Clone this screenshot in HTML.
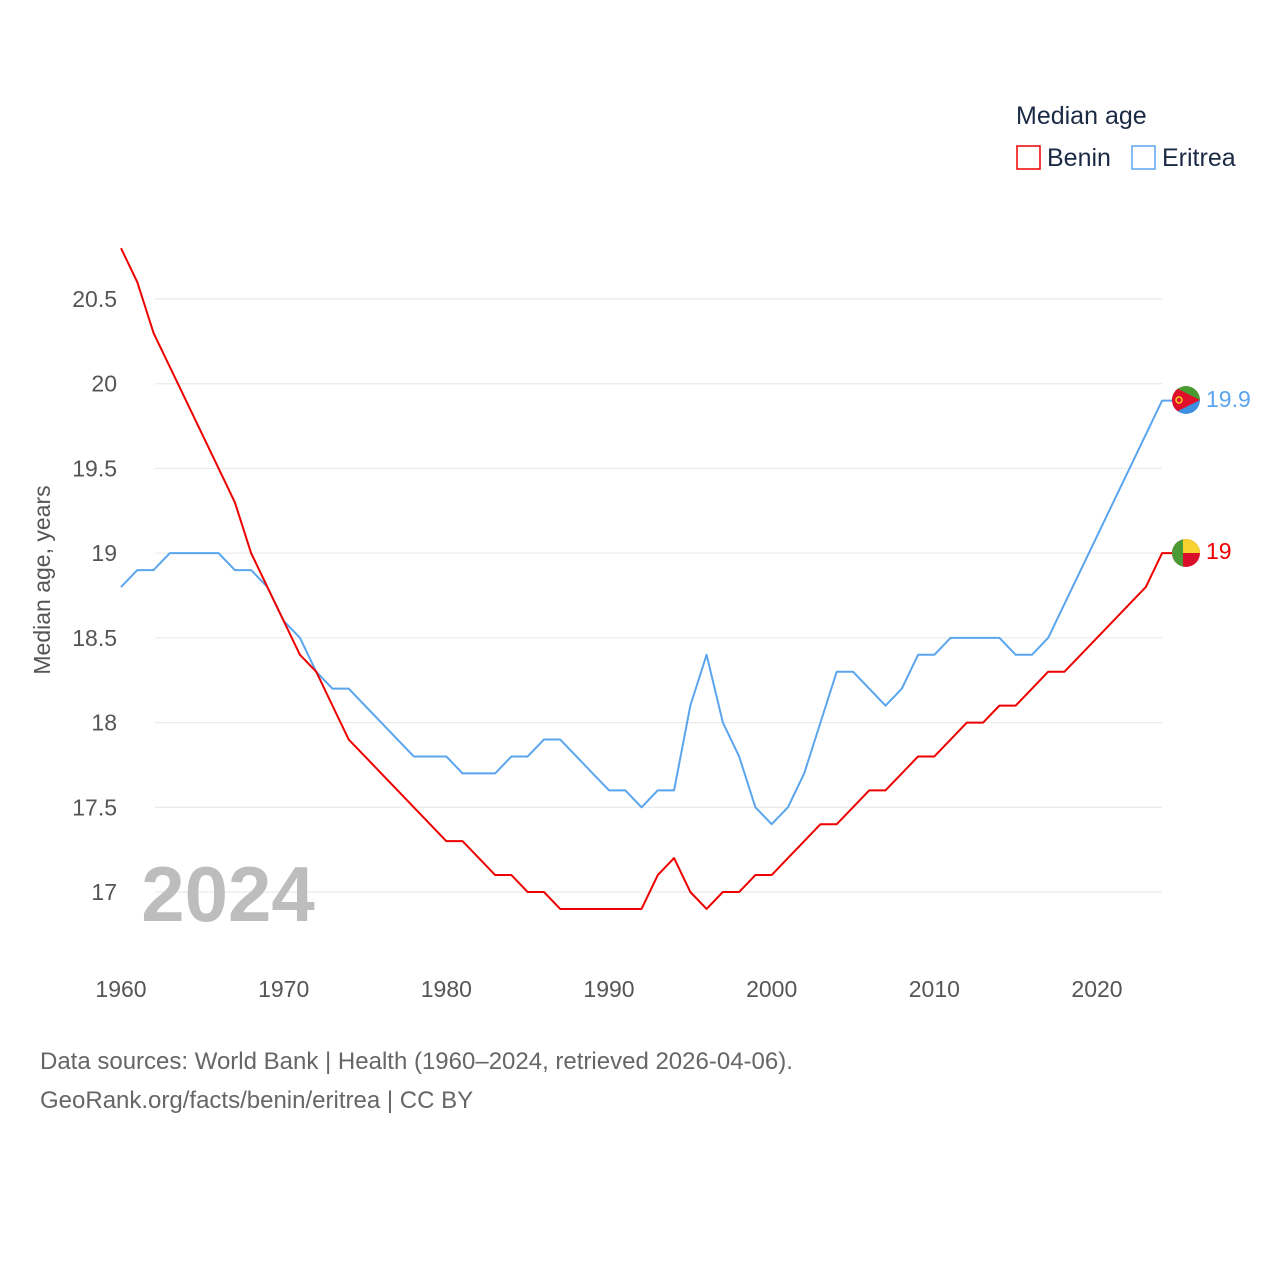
<!DOCTYPE html>
<html><head><meta charset="utf-8"><style>
body{margin:0;background:#fff;font-family:"Liberation Sans",sans-serif}
svg text{font-family:"Liberation Sans",sans-serif}
</style></head><body>
<svg width="1280" height="1280" xmlns="http://www.w3.org/2000/svg">
<g id="grid"></g>
<g id="yt"></g>
<g id="xt"></g>
<text x="228" y="921" font-size="78" font-weight="bold" fill="#bdbdbd" text-anchor="middle">2024</text>
<text transform="translate(50,580) rotate(-90)" font-size="23" fill="#555" text-anchor="middle">Median age, years</text>
<g id="lines"></g>
<text x="1016" y="124" font-size="25" fill="#1a2a44">Median age</text>
<g><rect x="1017" y="146" width="23" height="23" fill="none" stroke="#e00" stroke-width="1.5"/><text x="1047" y="166" font-size="25" fill="#1a2a44">Benin</text></g>
<g><rect x="1132" y="146" width="23" height="23" fill="none" stroke="#5aa5ee" stroke-width="1.5"/><text x="1162" y="166" font-size="25" fill="#1a2a44">Eritrea</text></g>
<g>
<clipPath id="c1"><circle cx="1186" cy="400" r="14"/></clipPath>
<g clip-path="url(#c1)"><rect x="1172" y="386" width="28" height="14" fill="#4a9a32"/><rect x="1172" y="400" width="28" height="14" fill="#3d8fe0"/><polygon points="1172,386 1200,400 1172,414" fill="#e0102a"/><circle cx="1179" cy="400" r="3" fill="none" stroke="#f5d020" stroke-width="1.5"/></g></g>
<text x="1206" y="407" font-size="23" fill="#5aa5ee">19.9</text>
<g>
<clipPath id="c2"><circle cx="1186" cy="553" r="14"/></clipPath>
<g clip-path="url(#c2)"><rect x="1172" y="539" width="28" height="28" fill="#d80e2a"/><rect x="1183" y="539" width="17" height="14" fill="#f7d230"/><rect x="1172" y="539" width="11" height="28" fill="#4c9a36"/></g></g>
<text x="1206" y="559" font-size="23" fill="#e00">19</text>
<text x="40" y="1069" font-size="24" fill="#666">Data sources: World Bank | Health (1960–2024, retrieved 2026-04-06).</text>
<text x="40" y="1108" font-size="24" fill="#666">GeoRank.org/facts/benin/eritrea | CC BY</text>
</svg>
<script>
const years=[];for(let y=1960;y<=2024;y++)years.push(y);
const benin=[20.8,20.6,20.3,20.1,19.9,19.7,19.5,19.3,19.0,18.8,18.6,18.4,18.3,18.1,17.9,17.8,17.7,17.6,17.5,17.4,17.3,17.3,17.2,17.1,17.1,17.0,17.0,16.9,16.9,16.9,16.9,16.9,16.9,17.1,17.2,17.0,16.9,17.0,17.0,17.1,17.1,17.2,17.3,17.4,17.4,17.5,17.6,17.6,17.7,17.8,17.8,17.9,18.0,18.0,18.1,18.1,18.2,18.3,18.3,18.4,18.5,18.6,18.7,18.8,19.0];
const eritrea=[18.8,18.9,18.9,19.0,19.0,19.0,19.0,18.9,18.9,18.8,18.6,18.5,18.3,18.2,18.2,18.1,18.0,17.9,17.8,17.8,17.8,17.7,17.7,17.7,17.8,17.8,17.9,17.9,17.8,17.7,17.6,17.6,17.5,17.6,17.6,18.1,18.4,18.0,17.8,17.5,17.4,17.5,17.7,18.0,18.3,18.3,18.2,18.1,18.2,18.4,18.4,18.5,18.5,18.5,18.5,18.4,18.4,18.5,18.7,18.9,19.1,19.3,19.5,19.7,19.9];
const yTicks=[17,17.5,18,18.5,19,19.5,20,20.5];
const xTicks=[1960,1970,1980,1990,2000,2010,2020];
const X=v=>121+(v-1960)*976/60;
const Y=v=>892-(v-17)*169.43;
const NS='http://www.w3.org/2000/svg';
const mk=(t,a,p)=>{const e=document.createElementNS(NS,t);for(const k in a)e.setAttribute(k,a[k]);p.appendChild(e);return e;};
const grid=document.getElementById('grid'),yt=document.getElementById('yt'),xt=document.getElementById('xt'),lines=document.getElementById('lines');
yTicks.forEach(v=>{
 const l=mk('line',{x1:155,x2:1162,y1:Y(v),y2:Y(v),stroke:'#e6e6e6','stroke-width':1},grid);
 
 
 const t=mk('text',{x:117,y:Y(v)+8,'font-size':23,fill:'#555','text-anchor':'end'},yt);t.textContent=String(v);
 
 
});
xTicks.forEach(v=>{
 const t=mk('text',{x:X(v),y:997,'font-size':23,fill:'#555','text-anchor':'middle'},xt);t.textContent=String(v);
 
 
});
function line(d,c,n){
 const pts=d.map((v,i)=>X(years[i])+','+Y(v));
 pts.push('1172,'+Y(d[d.length-1]));
 const p=mk('polyline',{points:pts.join(' '),fill:'none',stroke:c,'stroke-width':2,'stroke-linejoin':'round'},lines);
 
 
}
line(eritrea,'#5aa5ee','eritrea-line');
line(benin,'#e00','benin-line');
</script>
</body></html>
